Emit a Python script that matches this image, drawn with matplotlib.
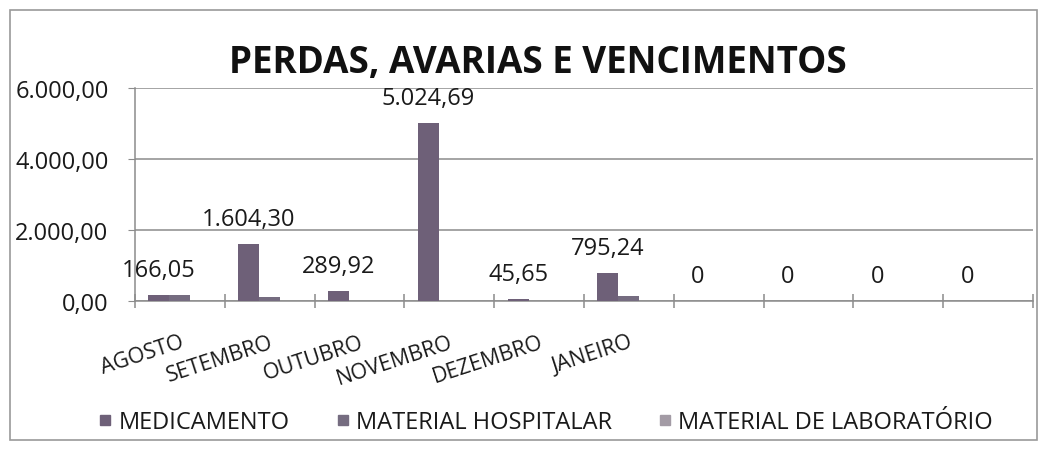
import matplotlib.pyplot as plt
import numpy as np
from matplotlib.patches import Rectangle
from matplotlib.lines import Line2D

plt.rcParams['font.family'] = ['Open Sans', 'DejaVu Sans']

meses = ['AGOSTO', 'SETEMBRO', 'OUTUBRO', 'NOVEMBRO', 'DEZEMBRO', 'JANEIRO', '', '', '', '']
medicamento = [166.05, 1604.30, 289.92, 5024.69, 45.65, 795.24, 0, 0, 0, 0]
material_hospitalar = [170, 100, 5, 10, 3, 140, 0, 0, 0, 0]
material_laboratorio = [0, 0, 0, 0, 0, 0, 0, 0, 0, 0]

series = ['MEDICAMENTO', 'MATERIAL HOSPITALAR', 'MATERIAL DE LABORATÓRIO']
cores = ['#6e6078', '#756c80', '#a39ba5']


def fmt_br(v, casas=2):
    s = f'{v:,.{casas}f}'
    return s.replace(',', 'X').replace('.', ',').replace('X', '.')


def rotulo(v):
    return '0' if v == 0 else fmt_br(v)


fig = plt.figure(figsize=(10.44, 4.56), dpi=100)
ax = fig.add_axes([135 / 1044, 0.3377, 898 / 1044, 0.4671])

# moldura em volta do grafico
fig.patches.append(Rectangle((10 / 1044, 15 / 456), 1027 / 1044, 430 / 456,
                             transform=fig.transFigure, fill=False,
                             edgecolor='#9a9a9a', linewidth=1.2))

x = np.arange(len(meses))
w = 0.7 / 3
dados = [medicamento, material_hospitalar, material_laboratorio]
for k, (vals, nome, cor) in enumerate(zip(dados, series, cores)):
    ax.bar(x + (k - 1) * w, vals, width=w, color=cor, label=nome, zorder=3)

for xi, v in zip(x - w, medicamento):
    ax.annotate(rotulo(v), (xi, v), xytext=(0, 18), textcoords='offset points',
                ha='center', va='center', fontsize=17, color='#1a1a1a')

ax.set_xlim(-0.5, len(meses) - 0.5)
ax.set_ylim(0, 6000)
ax.set_yticks([0, 2000, 4000, 6000])
ax.set_yticklabels([fmt_br(t) for t in [0, 2000, 4000, 6000]])
ax.yaxis.grid(True, color='#8c8c8c', linewidth=1.1, zorder=0)
ax.tick_params(axis='y', length=5, color='#8c8c8c', labelsize=17,
               labelcolor='#1a1a1a', pad=14)

ax.set_xticks(x)
ax.set_xticklabels(meses, rotation=18, ha='right', va='top',
                   rotation_mode='anchor', fontsize=15.5, color='#1a1a1a')
ax.tick_params(axis='x', which='major', length=0, pad=22)
ax.set_xticks(np.arange(len(meses) + 1) - 0.5, minor=True)
ax.tick_params(axis='x', which='minor', length=10, direction='inout',
               color='#8c8c8c', width=1.1)

for s in ['top', 'right']:
    ax.spines[s].set_visible(False)
for s in ['left', 'bottom']:
    ax.spines[s].set_color('#8c8c8c')
    ax.spines[s].set_linewidth(1.1)

fig.text(0.515, 0.862, 'PERDAS, AVARIAS E VENCIMENTOS', ha='center', va='center',
         fontsize=26.5, fontweight='bold', color='#111111')

marcas = [Line2D([], [], linestyle='none', marker='s', markersize=7.5,
                 markerfacecolor=c, markeredgecolor=c) for c in cores]
fig.legend(marcas, series, loc='center', bbox_to_anchor=(0.523, 0.072), ncol=3,
           frameon=False, fontsize=17, handlelength=0.5,
           handletextpad=0.3, columnspacing=2.0, labelcolor='#1a1a1a')

fig.savefig('out.png', dpi=100)
